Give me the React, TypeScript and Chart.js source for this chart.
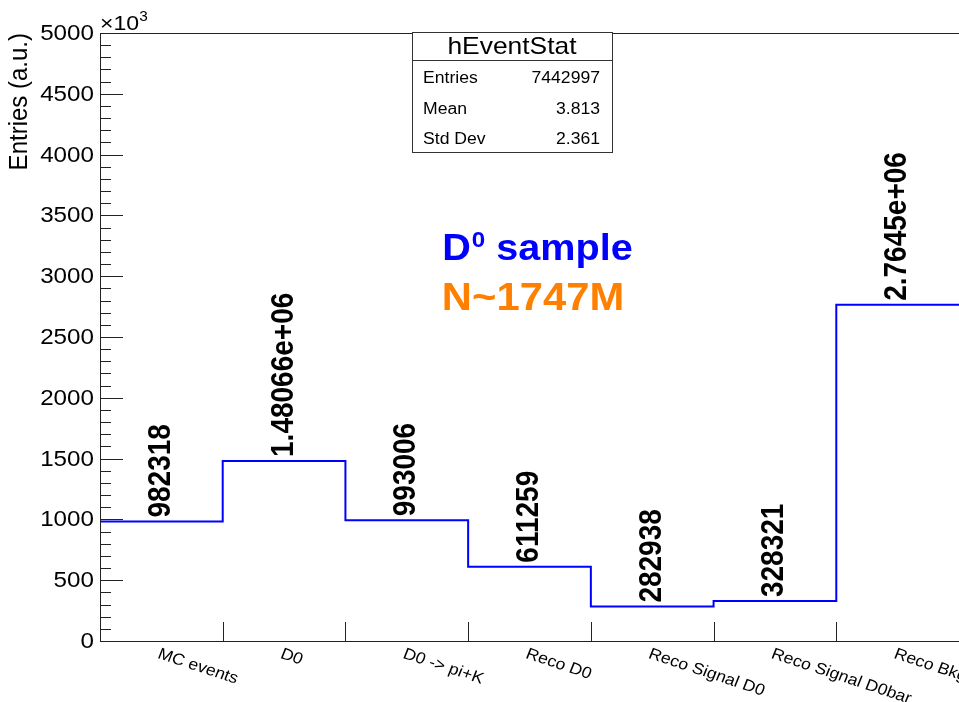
import React, { useEffect, useRef } from "react";
import { Chart, registerables } from "chart.js";

Chart.register(...registerables);

const categories = [
  "MC events",
  "D0",
  "D0 -> pi+K",
  "Reco D0",
  "Reco Signal D0",
  "Reco Signal D0bar",
  "Reco Bkg",
];
const binCounts = [982318, 1480660, 993006, 611259, 282938, 328321, 2764500];
const yTicks = [0, 500, 1000, 1500, 2000, 2500, 3000, 3500, 4000, 4500, 5000];
const statsRows: [string, string][] = [
  ["Entries", "7442997"],
  ["Mean", "3.813"],
  ["Std Dev", "2.361"],
];
const histTitle = "hEventStat";
const yTitle = "Entries (a.u.)";

const FONT = '"Liberation Sans", Arial, Helvetica, sans-serif';
const SX = 1.1;

function fmtG(v: number): string {
  if (Math.abs(v) >= 1e6) {
    let s = v.toExponential(5);
    let [m, e] = s.split("e");
    if (m.includes(".")) m = m.replace(/0+$/, "").replace(/\.$/, "");
    const sign = e[0] === "-" ? "-" : "+";
    const ex = e.replace(/^[+-]/, "").padStart(2, "0");
    return `${m}e${sign}${ex}`;
  }
  return String(Math.round(v));
}

function txt(
  ctx: CanvasRenderingContext2D,
  s: string,
  x: number,
  y: number,
  font: string,
  color: string,
  align: CanvasTextAlign,
  baseline: CanvasTextBaseline,
  rot = 0
) {
  ctx.save();
  ctx.translate(x, y);
  ctx.scale(SX, 1);
  ctx.rotate(rot);
  ctx.font = font;
  ctx.fillStyle = color;
  ctx.textAlign = align;
  ctx.textBaseline = baseline;
  ctx.fillText(s, 0, 0);
  ctx.restore();
}

const rootPlugin = {
  id: "rootStyle",
  afterDatasetsDraw(chart: any) {
    const ctx: CanvasRenderingContext2D = chart.ctx;
    const xs = chart.scales.x;
    const ys = chart.scales.y;
    const area = chart.chartArea;
    const L = area.left;
    const B = area.bottom;
    const T = area.top;
    const R = area.right;
    const axisColor = "#222";

    ctx.save();
    ctx.strokeStyle = axisColor;
    ctx.lineWidth = 1;
    ctx.beginPath();
    ctx.moveTo(L + 0.5, B + 0.5);
    ctx.lineTo(L + 0.5, T + 0.5);
    ctx.lineTo(R + 1, T + 0.5);
    ctx.moveTo(L, B + 0.5);
    ctx.lineTo(R + 1, B + 0.5);
    ctx.stroke();

    ctx.beginPath();
    for (let v = 0; v <= 5000; v += 100) {
      const y = Math.round(ys.getPixelForValue(v)) + 0.5;
      const len = v % 500 === 0 ? 23 : 11;
      ctx.moveTo(L, y);
      ctx.lineTo(L + len, y);
    }
    for (let i = 0; i <= categories.length; i++) {
      const x = Math.round(xs.getPixelForValue(i)) + 0.5;
      ctx.moveTo(x, B);
      ctx.lineTo(x, B - 19);
    }
    ctx.stroke();
    ctx.restore();

    for (const v of yTicks) {
      txt(ctx, String(v), L - 6, ys.getPixelForValue(v) + 1, `22px ${FONT}`, "#000", "right", "middle");
    }
    txt(ctx, "\u00d710", L, 30, `21px ${FONT}`, "#000", "left", "alphabetic");
    ctx.save();
    ctx.font = `21px ${FONT}`;
    const w10 = ctx.measureText("\u00d710").width * SX;
    ctx.restore();
    txt(ctx, "3", L + w10, 21, `14px ${FONT}`, "#000", "left", "alphabetic");

    txt(ctx, yTitle, 27, T, `24px ${FONT}`, "#000", "right", "alphabetic", -Math.PI / 2);

    categories.forEach((c, i) => {
      const x = xs.getPixelForValue(i + 0.5);
      txt(ctx, c, x, B + 5, `16px ${FONT}`, "#000", "left", "top", (20 * Math.PI) / 180);
    });

    binCounts.forEach((v, i) => {
      const x = xs.getPixelForValue(i + 0.5);
      const y = ys.getPixelForValue(v / 1000) - 4;
      txt(ctx, fmtG(v), x, y, `bold 28px ${FONT}`, "#000", "left", "middle", -Math.PI / 2);
    });

    ctx.save();
    ctx.fillStyle = "#fff";
    ctx.fillRect(412, 32, 200, 120);
    ctx.strokeStyle = "#333";
    ctx.lineWidth = 1;
    ctx.strokeRect(412.5, 32.5, 200, 120);
    ctx.beginPath();
    ctx.moveTo(412.5, 60.5);
    ctx.lineTo(612.5, 60.5);
    ctx.stroke();
    ctx.restore();
    txt(ctx, histTitle, 512, 47, `24px ${FONT}`, "#000", "center", "middle");
    statsRows.forEach(([k, v], i) => {
      const y = 79 + i * 30.5;
      txt(ctx, k, 423, y, `16px ${FONT}`, "#000", "left", "middle");
      txt(ctx, v, 600, y, `16px ${FONT}`, "#000", "right", "middle");
    });

    ctx.save();
    const fBig = `bold 36px ${FONT}`;
    const fSup = `bold 22px ${FONT}`;
    ctx.font = fBig;
    const wD = ctx.measureText("D").width * SX;
    const wS = ctx.measureText(" sample").width * SX;
    ctx.font = fSup;
    const w0 = ctx.measureText("0").width * SX;
    ctx.restore();
    const total = wD + w0 + wS;
    const sx0 = 537 - total / 2;
    const base = 260;
    txt(ctx, "D", sx0, base, fBig, "#0000ff", "left", "alphabetic");
    txt(ctx, "0", sx0 + wD + 1, base - 13, fSup, "#0000ff", "left", "alphabetic");
    txt(ctx, " sample", sx0 + wD + w0 + 1, base, fBig, "#0000ff", "left", "alphabetic");
    txt(ctx, "N~1747M", 533, 310, `bold 38px ${FONT}`, "#ff8000", "center", "alphabetic");
  },
};

export default function App() {
  const ref = useRef<HTMLCanvasElement | null>(null);
  useEffect(() => {
    if (!ref.current) return;
    const pts = binCounts.map((v, i) => ({ x: i, y: v / 1000 }));
    pts.push({ x: binCounts.length, y: binCounts[binCounts.length - 1] / 1000 });
    const chart = new Chart(ref.current, {
      type: "line",
      data: {
        datasets: [
          {
            data: pts,
            borderColor: "#0000ff",
            borderWidth: 2,
            pointRadius: 0,
            fill: false,
            stepped: "before",
            tension: 0,
          },
        ],
      },
      options: {
        responsive: false,
        animation: false,
        events: [],
        layout: { padding: { left: 100, top: 33, right: 0, bottom: 61 } },
        plugins: { legend: { display: false }, tooltip: { enabled: false }, title: { display: false } },
        scales: {
          x: { type: "linear", min: 0, max: categories.length, display: false },
          y: { type: "linear", min: 0, max: 5000, display: false },
        },
      },
      plugins: [rootPlugin],
    });
    return () => chart.destroy();
  }, []);
  return (
    <div style={{ position: "fixed", left: 0, top: 0, width: 959, height: 702, background: "#fff" }}>
      <canvas ref={ref} width={959} height={702} style={{ width: 959, height: 702, display: "block" }} />
    </div>
  );
}
